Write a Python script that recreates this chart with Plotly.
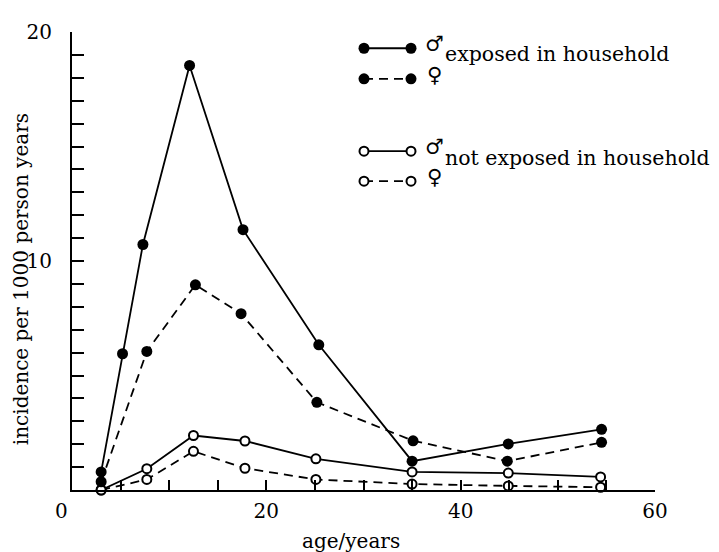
import plotly.graph_objects as go

# ---- data ----
age_m_exp = [3.0, 5.2, 7.3, 12.1, 17.6, 25.4, 35.0, 44.9, 54.5]
inc_m_exp = [0.79, 5.95, 10.72, 18.54, 11.37, 6.34, 1.26, 2.01, 2.65]

age_f_exp = [3.0, 7.7, 12.7, 17.4, 25.2, 35.1, 44.8, 54.5]
inc_f_exp = [0.36, 6.05, 8.96, 7.70, 3.83, 2.15, 1.26, 2.08]

age_unexp = [3.0, 7.7, 12.5, 17.8, 25.1, 35.0, 44.9, 54.4]
inc_m_unexp = [0.0, 0.93, 2.38, 2.14, 1.36, 0.79, 0.74, 0.57]
inc_f_unexp = [0.0, 0.46, 1.69, 0.95, 0.46, 0.26, 0.18, 0.12]

x_tick_vals = [0, 5, 10, 15, 20, 25, 30, 35, 40, 45, 50, 55, 60]
x_tick_text = ["", "", "", "", "20", "", "", "", "40", "", "", "", "60"]
y_tick_vals = list(range(0, 21))
y_tick_text = ["10" if v == 10 else "20" if v == 20 else "" for v in y_tick_vals]

x_title = "age/years"
y_title = "incidence per 1000 person years"
legend_groups = ["exposed in household", "not exposed in household"]
sex_symbols = ["\u2642", "\u2640"]

FONT = "DejaVu Serif"
DASH = "9px,6px"

fig = go.Figure()

def add_series(x, y, filled, dashed, name):
    fig.add_trace(go.Scatter(
        x=x, y=y, mode="lines+markers", name=name, showlegend=False,
        line=dict(color="black", width=1.8, dash=DASH if dashed else "solid"),
        marker=dict(
            size=11 if filled else 9,
            color="black" if filled else "white",
            line=dict(color="black", width=0 if filled else 2),
            symbol="circle",
        ),
        cliponaxis=False,
    ))

add_series(age_unexp, inc_f_unexp, False, True, "not exposed, female")
add_series(age_unexp, inc_m_unexp, False, False, "not exposed, male")
add_series(age_f_exp, inc_f_exp, True, True, "exposed, female")
add_series(age_m_exp, inc_m_exp, True, False, "exposed, male")

# page body has an 8px margin; figure is sized so it ends at the window edge
OFF = 8
FIG_W, FIG_H = 719 - OFF, 552 - OFF
L, R, T, B = 64, 64, 17, 62
W, H = FIG_W - L - R, FIG_H - T - B

def px(x_ref):
    return (x_ref - OFF - L) / W

def py(y_ref):
    return (T + H - (y_ref - OFF)) / H

shapes = []
annotations = []
legend_rows = [
    (41.5, True, False), (72.5, True, True),
    (146.0, False, False), (176.5, False, True),
]
for i, (yr, filled, dashed) in enumerate(legend_rows):
    x_a, x_b = 364, 411
    shapes.append(dict(type="line", xref="paper", yref="paper",
                       x0=px(x_a), x1=px(x_b), y0=py(yr), y1=py(yr),
                       line=dict(color="black", width=1.8,
                                 dash=DASH if dashed else "solid")))
    r = 5.5 if filled else 4.5
    for xc in (x_a, x_b):
        shapes.append(dict(type="circle", xref="paper", yref="paper",
                           xsizemode="pixel", ysizemode="pixel",
                           xanchor=px(xc), yanchor=py(yr),
                           x0=-r, x1=r, y0=-r, y1=r,
                           fillcolor="black" if filled else "white",
                           line=dict(color="black", width=0 if filled else 2)))
    annotations.append(dict(xref="paper", yref="paper", x=px(434), y=py(yr - 4),
                            text=sex_symbols[i % 2], showarrow=False,
                            xanchor="center", yanchor="middle",
                            font=dict(family=FONT, size=21, color="black")))

annotations.append(dict(xref="paper", yref="paper", x=px(443), y=py(47),
                        text=legend_groups[0], showarrow=False,
                        xanchor="left", yanchor="middle",
                        font=dict(family=FONT, size=20.5, color="black")))
annotations.append(dict(xref="paper", yref="paper", x=px(443), y=py(153),
                        text=legend_groups[1], showarrow=False,
                        xanchor="left", yanchor="middle",
                        font=dict(family=FONT, size=20.5, color="black")))

# axis titles and the shared origin label
annotations.append(dict(xref="paper", yref="paper", x=px(351), y=py(542),
                        text=x_title, showarrow=False,
                        xanchor="center", yanchor="middle",
                        font=dict(family=FONT, size=20, color="black")))
annotations.append(dict(xref="paper", yref="paper", x=px(21), y=py(276),
                        text=y_title, showarrow=False, textangle=-90,
                        xanchor="center", yanchor="middle",
                        font=dict(family=FONT, size=20, color="black")))
annotations.append(dict(xref="x", yref="y", x=0, y=0, xshift=-11, yshift=-21,
                        text="0", showarrow=False,
                        xanchor="center", yanchor="middle",
                        font=dict(family=FONT, size=20, color="black")))

fig.update_layout(
    width=FIG_W, height=FIG_H,
    margin=dict(l=L, r=R, t=T, b=B, pad=0),
    plot_bgcolor="white", paper_bgcolor="white",
    font=dict(family=FONT, size=20, color="black"),
    shapes=shapes, annotations=annotations,
    showlegend=False,
)
fig.update_xaxes(
    range=[0, 60], showgrid=False, zeroline=False,
    showline=True, linecolor="black", linewidth=2,
    tickmode="array", tickvals=x_tick_vals, ticktext=x_tick_text,
    ticks="inside", ticklen=10, tickwidth=1.5, tickcolor="black",
    ticklabelstandoff=2,
)
fig.update_yaxes(
    range=[0, 20], showgrid=False, zeroline=False,
    showline=True, linecolor="black", linewidth=2,
    tickmode="array", tickvals=y_tick_vals, ticktext=y_tick_text,
    ticks="inside", ticklen=12, tickwidth=1.5, tickcolor="black",
    ticklabelstandoff=14,
)

fig.write_html("out.html")
